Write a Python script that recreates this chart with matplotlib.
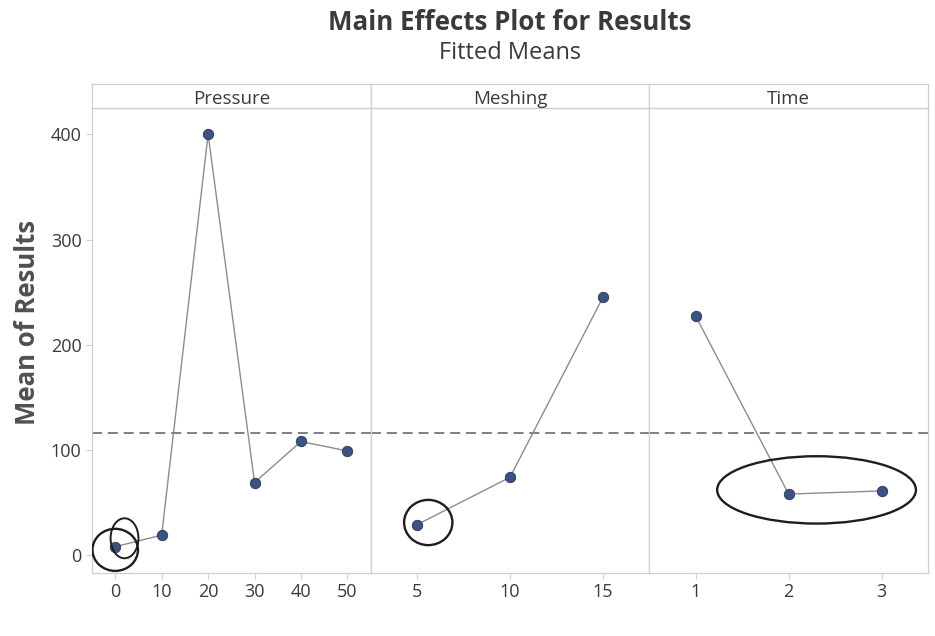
import matplotlib
matplotlib.use("Agg")
import matplotlib.pyplot as plt
from matplotlib.patches import Ellipse

plt.rcParams['font.family'] = ['Open Sans', 'DejaVu Sans']

factors = ["Pressure", "Meshing", "Time"]
pressure_levels = ["0", "10", "20", "30", "40", "50"]
pressure_means = [8, 19, 400, 69, 108, 99]
meshing_levels = ["5", "10", "15"]
meshing_means = [29, 74, 245]
time_levels = ["1", "2", "3"]
time_means = [227, 58, 61]
overall_mean = 116
y_ticks = [0, 100, 200, 300, 400]

levels = [pressure_levels, meshing_levels, time_levels]
means = [pressure_means, meshing_means, time_means]

W, H = 935, 636
fig = plt.figure(figsize=(W / 100, H / 100), dpi=100)
fig.patch.set_facecolor("white")

left, right = 92 / W, 928 / W
bottom = 1 - 573 / H
top = 1 - 108 / H
strip_top = 1 - 84 / H
pw = (right - left) / 3

text_c = "#3a3a3a"
frame_c = "#cfcfcf"
line_c = "#8c8c8c"
marker_c = "#3b5282"

axes = []
for i, (fac, lev, mu) in enumerate(zip(factors, levels, means)):
    ax = fig.add_axes([left + i * pw, bottom, pw, top - bottom])
    x = list(range(len(lev)))
    ax.plot(x, mu, color=line_c, lw=1.0, zorder=2)
    ax.plot(x, mu, 'o', ms=7.5, color=marker_c, mec="#2a3550", mew=0.6, zorder=3)
    ax.axhline(overall_mean, color="#6a6a6a", lw=1.2, ls=(0, (6, 3.5)), zorder=1)
    ax.set_xlim(-0.5, len(lev) - 0.5)
    ax.set_ylim(-17, 425)
    ax.set_xticks(x)
    ax.set_xticklabels(lev)
    ax.set_yticks(y_ticks)
    for s in ax.spines.values():
        s.set_color(frame_c)
        s.set_linewidth(0.9)
    ax.tick_params(axis='both', colors=frame_c, labelcolor=text_c, labelsize=13,
                   length=4, width=0.8, direction='out')
    if i > 0:
        ax.tick_params(axis='y', left=False, labelleft=False)
    # strip
    sax = fig.add_axes([left + i * pw, top, pw, strip_top - top])
    sax.set_xticks([])
    sax.set_yticks([])
    for s in sax.spines.values():
        s.set_color(frame_c)
        s.set_linewidth(0.9)
    sax.text(0.5, 0.38, fac, ha='center', va='center', fontsize=13.5, color=text_c,
             transform=sax.transAxes)
    axes.append(ax)

# hand-drawn annotation circles
ink = "#1e1e1e"
axes[0].add_patch(Ellipse((0.0, 5), 0.98, 40, angle=0, fill=False, ec=ink, lw=1.7, zorder=4))
axes[0].add_patch(Ellipse((0.2, 16), 0.6, 38, fill=False, ec=ink, lw=1.4, zorder=4))
axes[1].add_patch(Ellipse((0.12, 31), 0.52, 43, fill=False, ec=ink, lw=1.7, zorder=4))
axes[2].add_patch(Ellipse((1.3, 62), 2.14, 64, fill=False, ec=ink, lw=1.7, zorder=4))

fig.text(0.545, 1 - 22 / H, "Main Effects Plot for Results", ha='center', va='center',
         fontsize=18.6, fontweight='bold', color=text_c)
fig.text(0.545, 1 - 53 / H, "Fitted Means", ha='center', va='center',
         fontsize=17, color=text_c)
fig.text(28 / W, 1 - 322 / H, "Mean of Results", rotation=90, ha='center',
         va='center', fontsize=18.5, fontweight='bold', color="#505050")

fig.savefig("out.png", dpi=100, facecolor="white")
